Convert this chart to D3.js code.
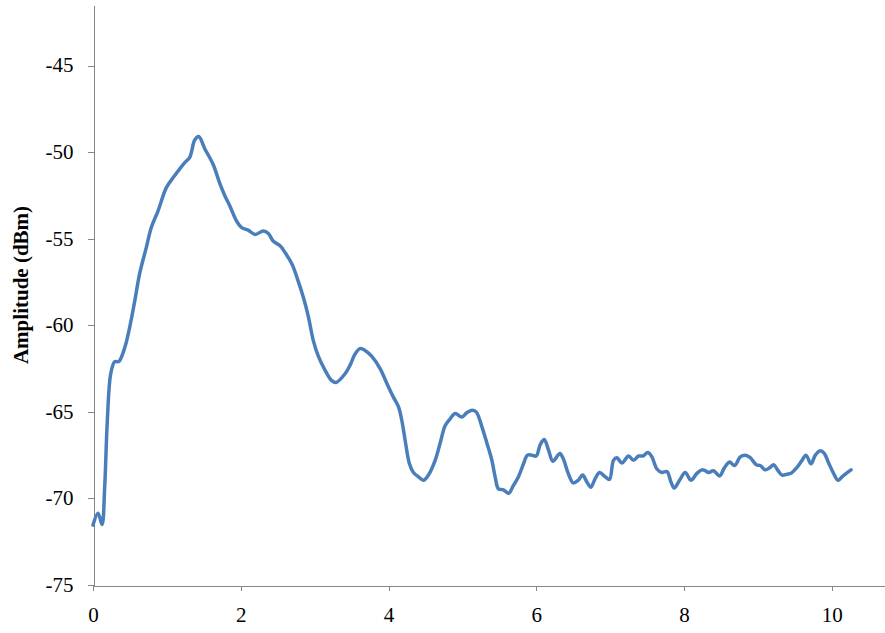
<!DOCTYPE html>
<html>
<head>
<meta charset="utf-8">
<script src="https://cdn.jsdelivr.net/npm/d3@7"></script>
<style>
  html, body { margin: 0; padding: 0; background: #fff; }
  svg { display: block; }
  .axis text { font-family: "Liberation Serif", "Times New Roman", serif; font-size: 21px; fill: #000; }
  .axis path, .axis line { stroke: #868686; stroke-width: 1px; shape-rendering: crispEdges; }
</style>
</head>
<body>
<svg id="chart" width="885" height="633"></svg>
<script>
// Distance (x) and measured amplitude in dBm
const distance = [
  0.000, 0.068, 0.122, 0.158, 0.194, 0.240, 0.294, 0.348, 0.429, 0.497,
  0.565, 0.632, 0.722, 0.789, 0.880, 0.993, 1.106, 1.242, 1.309, 1.377,
  1.431, 1.513, 1.625, 1.716, 1.783, 1.851, 1.940, 2.008, 2.099, 2.194,
  2.306, 2.374, 2.441, 2.532, 2.600, 2.691, 2.758, 2.848, 2.915, 2.983,
  3.051, 3.142, 3.232, 3.290, 3.412, 3.480, 3.548, 3.615, 3.683, 3.774,
  3.886, 3.977, 4.066, 4.134, 4.180, 4.225, 4.283, 4.337, 4.405, 4.473,
  4.540, 4.631, 4.699, 4.766, 4.834, 4.902, 4.993, 5.060, 5.128, 5.186,
  5.263, 5.331, 5.399, 5.443, 5.488, 5.556, 5.624, 5.691, 5.759, 5.827,
  5.881, 5.940, 5.999, 6.053, 6.107, 6.165, 6.225, 6.319, 6.364, 6.432,
  6.499, 6.567, 6.627, 6.685, 6.739, 6.798, 6.856, 6.933, 6.991, 7.045,
  7.091, 7.159, 7.249, 7.316, 7.384, 7.443, 7.511, 7.565, 7.633, 7.701,
  7.768, 7.823, 7.867, 7.939, 8.016, 8.093, 8.175, 8.242, 8.287, 8.332,
  8.399, 8.481, 8.544, 8.616, 8.684, 8.761, 8.829, 8.896, 8.978, 9.032,
  9.100, 9.167, 9.212, 9.266, 9.326, 9.393, 9.448, 9.529, 9.597, 9.651,
  9.718, 9.777, 9.844, 9.898, 9.957, 10.024, 10.084, 10.138, 10.196, 10.260
];
const amplitude = [
  -71.54, -70.85, -71.50, -69.35, -65.50, -62.80, -62.10, -62.10, -61.30, -60.10,
  -58.60, -57.00, -55.50, -54.35, -53.40, -52.05, -51.35, -50.60, -50.30, -49.30,
  -49.10, -49.80, -50.70, -51.80, -52.50, -53.10, -53.95, -54.35, -54.50, -54.75,
  -54.55, -54.70, -55.15, -55.40, -55.80, -56.45, -57.20, -58.40, -59.50, -60.90,
  -61.80, -62.60, -63.20, -63.30, -62.80, -62.30, -61.65, -61.35, -61.45, -61.80,
  -62.50, -63.35, -64.15, -64.70, -65.50, -66.65, -68.00, -68.50, -68.75, -68.95,
  -68.65, -67.80, -66.80, -65.80, -65.40, -65.10, -65.30, -65.05, -64.90, -65.00,
  -65.85, -66.80, -67.80, -68.75, -69.45, -69.50, -69.70, -69.25, -68.75, -68.00,
  -67.50, -67.50, -67.55, -66.90, -66.60, -67.20, -67.85, -67.40, -67.70, -68.55,
  -69.10, -68.95, -68.65, -69.05, -69.35, -68.85, -68.50, -68.75, -68.90, -67.80,
  -67.65, -67.95, -67.55, -67.80, -67.55, -67.55, -67.35, -67.60, -68.30, -68.50,
  -68.45, -69.05, -69.40, -68.95, -68.50, -68.95, -68.55, -68.35, -68.40, -68.50,
  -68.40, -68.70, -68.25, -67.90, -68.10, -67.60, -67.50, -67.65, -68.05, -68.10,
  -68.35, -68.20, -68.05, -68.35, -68.65, -68.60, -68.55, -68.20, -67.80, -67.50,
  -68.00, -67.50, -67.25, -67.40, -67.95, -68.55, -68.95, -68.75, -68.55, -68.35
];
const xTicks = [0, 2, 4, 6, 8, 10];
const yTicks = [-75, -70, -65, -60, -55, -50, -45];
const yTitle = "Amplitude (dBm)";

const svg = d3.select("#chart");

const x = d3.scaleLinear().domain([0, 10.72]).range([93, 885]);
const y = d3.scaleLinear().domain([-75, -41.5]).range([585, 5]);

// Horizontal axis
const xAxis = svg.append("g")
  .attr("class", "axis")
  .attr("transform", "translate(0,585.5)")
  .call(d3.axisBottom(x).tickValues(xTicks).tickSize(5).tickSizeOuter(0).tickPadding(14)
    .tickFormat(d3.format("d")));

// Vertical axis
const yAxis = svg.append("g")
  .attr("class", "axis")
  .attr("transform", "translate(93.5,0)")
  .call(d3.axisLeft(y).tickValues(yTicks).tickSize(6).tickSizeOuter(0).tickPadding(14)
    .tickFormat(d => d));
yAxis.selectAll("text").attr("dy", "0.3em");
xAxis.selectAll("text").attr("dy", "0.85em");

// Axis title
svg.append("text")
  .attr("transform", "translate(28,285) rotate(-90)")
  .attr("text-anchor", "middle")
  .style("font-family", "'Liberation Serif', 'Times New Roman', serif")
  .style("font-size", "21px")
  .style("font-weight", "bold")
  .text(yTitle);

// Trace
const points = distance.map((d, i) => [d, amplitude[i]]);
svg.append("path")
  .datum(points)
  .attr("fill", "none")
  .attr("stroke", "#4a7ebb")
  .attr("stroke-width", 3.5)
  .attr("stroke-linejoin", "round")
  .attr("stroke-linecap", "round")
  .attr("d", d3.line().x(d => x(d[0])).y(d => y(d[1])).curve(d3.curveCatmullRom.alpha(0.5)));
</script>
</body>
</html>
